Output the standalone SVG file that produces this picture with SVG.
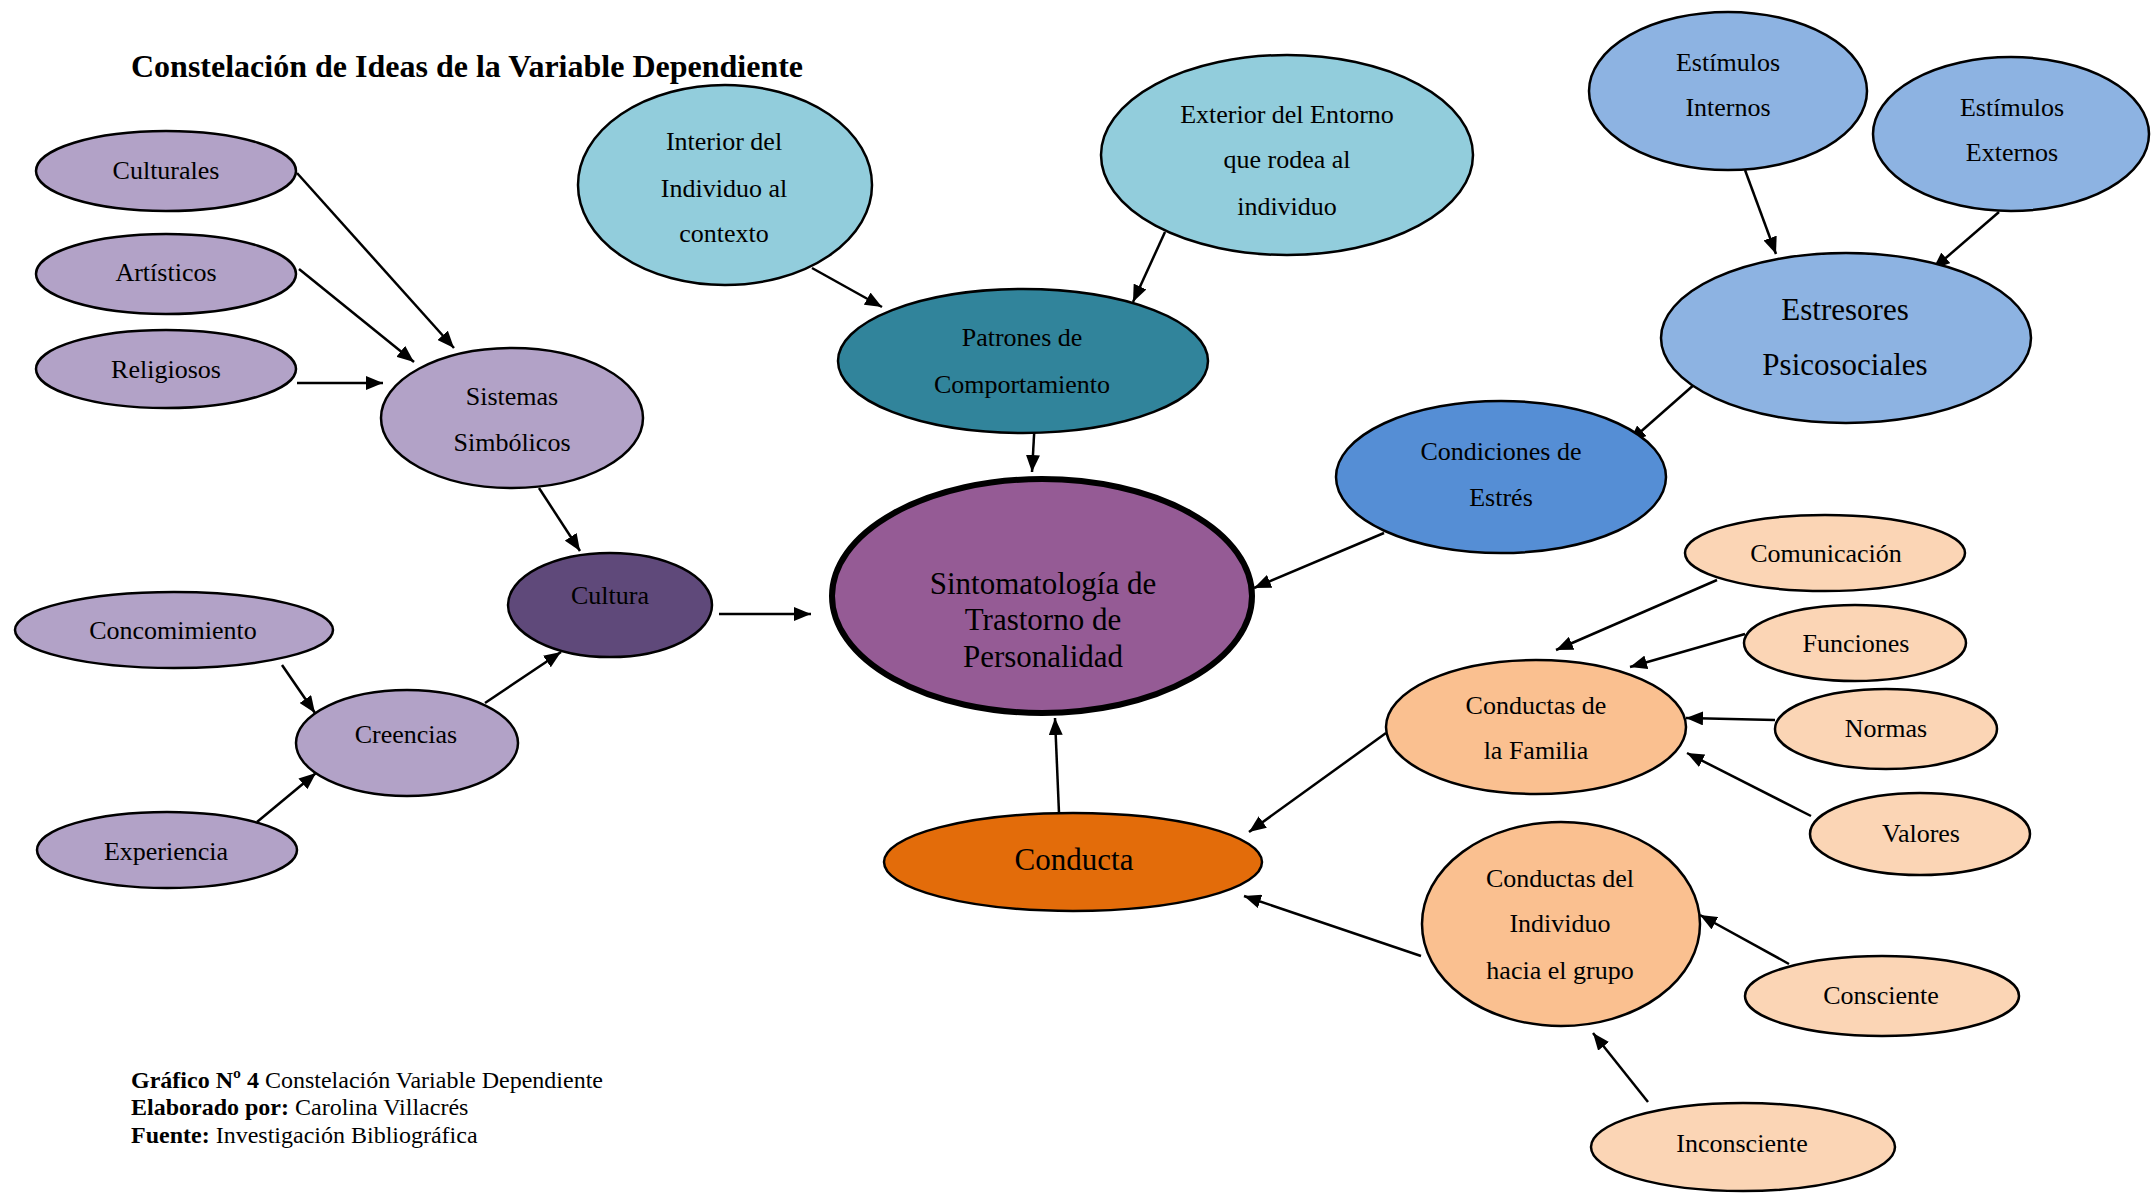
<svg xmlns="http://www.w3.org/2000/svg" width="2151" height="1196" viewBox="0 0 2151 1196">
  <defs>
    <marker id="arrow" markerUnits="userSpaceOnUse" markerWidth="18" markerHeight="14" refX="17" refY="7" orient="auto">
      <path d="M0,0 L17,7 L0,14 z" fill="#000"/>
    </marker>
    <style>
      .node { stroke: #000; stroke-width: 2.5; }
      .main { stroke: #000; stroke-width: 6; }
      .lav { fill: #b2a2c7; }
      .cult { fill: #5f497a; }
      .sky { fill: #92cddc; }
      .teal { fill: #31849b; }
      .plum { fill: #955b95; }
      .blue { fill: #8db3e2; }
      .blue2 { fill: #558ed5; }
      .peach { fill: #fac090; }
      .peach2 { fill: #fbd5b5; }
      .orange { fill: #e36c0a; }
      text { font-family: "Liberation Serif", "Times New Roman", serif; fill: #000; text-anchor: middle; }
      .t { font-size: 26px; }
      .big { font-size: 31px; }
      .title { font-size: 32px; font-weight: bold; text-anchor: start; }
      .foot { font-size: 24px; text-anchor: start; }
      .b { font-weight: bold; }
      .conn line { stroke: #000; stroke-width: 2.5; marker-end: url(#arrow); }
    </style>
  </defs>

  <rect width="2151" height="1196" fill="#fff"/>

  <text class="title" x="131" y="77">Constelación de Ideas de la Variable Dependiente</text>

  <!-- connectors -->
  <g id="connectors" class="conn">
    <line x1="297" y1="173" x2="454" y2="348"/>
    <line x1="299" y1="269" x2="414" y2="362"/>
    <line x1="297" y1="383" x2="383" y2="383"/>
    <line x1="539" y1="488" x2="580" y2="551"/>
    <line x1="282" y1="665" x2="315" y2="713"/>
    <line x1="257" y1="822" x2="316" y2="773"/>
    <line x1="485" y1="703" x2="561" y2="652"/>
    <line x1="719" y1="614" x2="811" y2="614"/>
    <line x1="812" y1="268" x2="882" y2="307"/>
    <line x1="1165" y1="232" x2="1133" y2="302"/>
    <line x1="1035" y1="418" x2="1032" y2="472"/>
    <line x1="1745" y1="170" x2="1776" y2="254"/>
    <line x1="1999" y1="212" x2="1933" y2="269"/>
    <line x1="1696" y1="383" x2="1629" y2="442"/>
    <line x1="1384" y1="533" x2="1254" y2="588"/>
    <line x1="1059" y1="813" x2="1055" y2="718"/>
    <line x1="1386" y1="733" x2="1249" y2="832"/>
    <line x1="1421" y1="956" x2="1244" y2="896"/>
    <line x1="1717" y1="580" x2="1556" y2="650"/>
    <line x1="1745" y1="634" x2="1630" y2="667"/>
    <line x1="1775" y1="720" x2="1686" y2="718"/>
    <line x1="1811" y1="816" x2="1687" y2="753"/>
    <line x1="1789" y1="964" x2="1700" y2="915"/>
    <line x1="1648" y1="1102" x2="1593" y2="1033"/>
  </g>

  <!-- cultural branch -->
  <g id="culturales">
    <ellipse class="node lav" cx="166" cy="171" rx="130" ry="40"/>
    <text class="t" x="166" y="179">Culturales</text>
  </g>
  <g id="artisticos">
    <ellipse class="node lav" cx="166" cy="274" rx="130" ry="40"/>
    <text class="t" x="166" y="281">Artísticos</text>
  </g>
  <g id="religiosos">
    <ellipse class="node lav" cx="166" cy="369" rx="130" ry="39"/>
    <text class="t" x="166" y="378">Religiosos</text>
  </g>
  <g id="sistemas">
    <ellipse class="node lav" cx="512" cy="418" rx="131" ry="70"/>
    <text class="t" x="512" y="405">Sistemas</text>
    <text class="t" x="512" y="451">Simbólicos</text>
  </g>
  <g id="cultura">
    <ellipse class="node cult" cx="610" cy="605" rx="102" ry="52"/>
    <text class="t" x="610" y="604">Cultura</text>
  </g>
  <g id="concomimiento">
    <ellipse class="node lav" cx="174" cy="630" rx="159" ry="38"/>
    <text class="t" x="173" y="639">Concomimiento</text>
  </g>
  <g id="creencias">
    <ellipse class="node lav" cx="407" cy="743" rx="111" ry="53"/>
    <text class="t" x="406" y="743">Creencias</text>
  </g>
  <g id="experiencia">
    <ellipse class="node lav" cx="167" cy="850" rx="130" ry="38"/>
    <text class="t" x="166" y="860">Experiencia</text>
  </g>

  <!-- behaviour patterns branch -->
  <g id="interior">
    <ellipse class="node sky" cx="725" cy="185" rx="147" ry="100"/>
    <text class="t" x="724" y="150">Interior del</text>
    <text class="t" x="724" y="197">Individuo al</text>
    <text class="t" x="724" y="242">contexto</text>
  </g>
  <g id="exterior">
    <ellipse class="node sky" cx="1287" cy="155" rx="186" ry="100"/>
    <text class="t" x="1287" y="123">Exterior del Entorno</text>
    <text class="t" x="1287" y="168">que rodea al</text>
    <text class="t" x="1287" y="215">individuo</text>
  </g>
  <g id="patrones">
    <ellipse class="node teal" cx="1023" cy="361" rx="185" ry="72"/>
    <text class="t" x="1022" y="346">Patrones de</text>
    <text class="t" x="1022" y="393">Comportamiento</text>
  </g>

  <!-- central node -->
  <g id="sintomatologia">
    <ellipse class="main plum" cx="1042" cy="596" rx="210" ry="117"/>
    <text class="big" x="1043" y="594">Sintomatología de</text>
    <text class="big" x="1043" y="630">Trastorno de</text>
    <text class="big" x="1043" y="667">Personalidad</text>
  </g>
  <g id="conducta">
    <ellipse class="node orange" cx="1073" cy="862" rx="189" ry="49"/>
    <text class="big" x="1074" y="870">Conducta</text>
  </g>

  <!-- stress branch -->
  <g id="estimulos-internos">
    <ellipse class="node blue" cx="1728" cy="91" rx="139" ry="79"/>
    <text class="t" x="1728" y="71">Estímulos</text>
    <text class="t" x="1728" y="116">Internos</text>
  </g>
  <g id="estimulos-externos">
    <ellipse class="node blue" cx="2011" cy="134" rx="138" ry="77"/>
    <text class="t" x="2012" y="116">Estímulos</text>
    <text class="t" x="2012" y="161">Externos</text>
  </g>
  <g id="estresores">
    <ellipse class="node blue" cx="1846" cy="338" rx="185" ry="85"/>
    <text class="big" x="1845" y="320">Estresores</text>
    <text class="big" x="1845" y="375">Psicosociales</text>
  </g>
  <g id="condiciones">
    <ellipse class="node blue2" cx="1501" cy="477" rx="165" ry="76"/>
    <text class="t" x="1501" y="460">Condiciones de</text>
    <text class="t" x="1501" y="506">Estrés</text>
  </g>

  <!-- family behaviour branch -->
  <g id="comunicacion">
    <ellipse class="node peach2" cx="1825" cy="553" rx="140" ry="38"/>
    <text class="t" x="1826" y="562">Comunicación</text>
  </g>
  <g id="funciones">
    <ellipse class="node peach2" cx="1855" cy="643" rx="111" ry="38"/>
    <text class="t" x="1856" y="652">Funciones</text>
  </g>
  <g id="normas">
    <ellipse class="node peach2" cx="1886" cy="729" rx="111" ry="40"/>
    <text class="t" x="1886" y="737">Normas</text>
  </g>
  <g id="valores">
    <ellipse class="node peach2" cx="1920" cy="834" rx="110" ry="41"/>
    <text class="t" x="1921" y="842">Valores</text>
  </g>
  <g id="conductas-familia">
    <ellipse class="node peach" cx="1536" cy="727" rx="150" ry="67"/>
    <text class="t" x="1536" y="714">Conductas de</text>
    <text class="t" x="1536" y="759">la Familia</text>
  </g>
  <g id="conductas-individuo">
    <ellipse class="node peach" cx="1561" cy="924" rx="139" ry="102"/>
    <text class="t" x="1560" y="887">Conductas del</text>
    <text class="t" x="1560" y="932">Individuo</text>
    <text class="t" x="1560" y="979">hacia el grupo</text>
  </g>
  <g id="consciente">
    <ellipse class="node peach2" cx="1882" cy="996" rx="137" ry="40"/>
    <text class="t" x="1881" y="1004">Consciente</text>
  </g>
  <g id="inconsciente">
    <ellipse class="node peach2" cx="1743" cy="1147" rx="152" ry="44"/>
    <text class="t" x="1742" y="1152">Inconsciente</text>
  </g>

  <!-- caption -->
  <text class="foot" x="131" y="1088"><tspan class="b">Gráfico Nº 4</tspan> Constelación Variable Dependiente</text>
  <text class="foot" x="131" y="1115"><tspan class="b">Elaborado por:</tspan> Carolina Villacrés</text>
  <text class="foot" x="131" y="1143"><tspan class="b">Fuente:</tspan> Investigación Bibliográfica</text>
</svg>
